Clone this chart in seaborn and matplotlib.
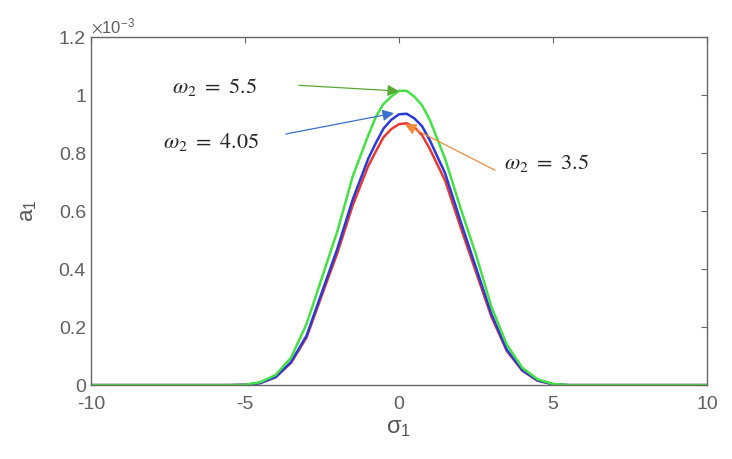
import pandas as pd
import numpy as np
import matplotlib
matplotlib.use("Agg")
import matplotlib.pyplot as plt
import seaborn as sns

# sigma_1 grid and a_1 values (units of 1e-3)
sigma1 = [-10, -6, -5.5, -5, -4.5, -4, -3.5, -3, -2.5, -2, -1.5, -1, -0.75, -0.5, -0.25,
          0, 0.25, 0.5, 0.75, 1, 1.5, 2, 2.5, 3, 3.5, 4, 4.5, 5, 5.5, 6, 10]

a1_w35 = [0, 0, 0, 0.001, 0.007, 0.027, 0.077, 0.164, 0.31, 0.455, 0.62, 0.755, 0.806, 0.855, 0.883,
          0.90, 0.903, 0.89, 0.862, 0.815, 0.705, 0.545, 0.39, 0.236, 0.118, 0.05, 0.015, 0.003, 0, 0, 0]

a1_w405 = [0, 0, 0, 0.001, 0.007, 0.028, 0.08, 0.17, 0.32, 0.47, 0.64, 0.78, 0.835, 0.885, 0.915,
           0.934, 0.936, 0.92, 0.893, 0.845, 0.73, 0.565, 0.405, 0.245, 0.122, 0.052, 0.016, 0.003, 0, 0, 0]

a1_w55 = [0, 0, 0, 0.001, 0.01, 0.035, 0.095, 0.21, 0.37, 0.53, 0.72, 0.86, 0.925, 0.97, 0.995,
          1.015, 1.015, 0.995, 0.965, 0.915, 0.78, 0.61, 0.45, 0.27, 0.14, 0.06, 0.02, 0.004, 0, 0, 0]

labels = ['3.5', '4.05', '5.5']
colors = {'3.5': '#e8382f', '4.05': '#2a3ad6', '5.5': '#45e045'}

yticks = [0, 0.2, 0.4, 0.6, 0.8, 1.0, 1.2]
ytick_labels = ['0', '0.2', '0.4', '0.6', '0.8', '1', '1.2']
xticks = [-10, -5, 0, 5, 10]

df = pd.concat([
    pd.DataFrame({'sigma1': sigma1, 'a1': np.array(a1_w35) * 1e-3, 'w2': '3.5'}),
    pd.DataFrame({'sigma1': sigma1, 'a1': np.array(a1_w405) * 1e-3, 'w2': '4.05'}),
    pd.DataFrame({'sigma1': sigma1, 'a1': np.array(a1_w55) * 1e-3, 'w2': '5.5'}),
])

sns.set_style('white')
plt.rcParams.update({
    'font.family': ['Liberation Sans', 'DejaVu Sans'],
    'mathtext.fontset': 'stix',
    'axes.unicode_minus': False,
    'xtick.direction': 'in', 'ytick.direction': 'in',
    'xtick.top': True, 'ytick.right': True,
    'xtick.color': '#666666', 'ytick.color': '#666666',
    'xtick.labelcolor': '#606060', 'ytick.labelcolor': '#606060',
})

fig = plt.figure(figsize=(7.32, 4.59), dpi=100)
ax = fig.add_axes([0.124, 0.161, 0.842, 0.758])

sns.lineplot(data=df, x='sigma1', y='a1', hue='w2', hue_order=labels,
             palette=colors, linewidth=1.8, legend=False, ax=ax, sort=False)

ax.set_xlim(-10, 10)
ax.set_ylim(0, 1.2e-3)
ax.set_xticks(xticks)
ax.set_xticklabels([str(t) for t in xticks])
ax.set_yticks(np.array(yticks) * 1e-3)
ax.set_yticklabels(ytick_labels)
ax.tick_params(labelsize=14, length=4, width=0.8)
ax.tick_params(axis='x', pad=8)
for s in ax.spines.values():
    s.set_color('#666666')
    s.set_linewidth(1.0)

# exponent label like MATLAB
ax.text(0.0, 1.003, r'$\times\mathregular{10^{-3}}$', transform=ax.transAxes,
        fontsize=12, color='#606060', ha='left', va='bottom')

ax.set_xlabel('σ$\\mathregular{_1}$', fontsize=17, color='#555555', labelpad=3)
ax.set_ylabel('a$\\mathregular{_1}$', fontsize=16, color='#555555', labelpad=14)

# labels and arrows pointing at the peaks
txt = dict(fontsize=16, ha='center', va='center')
ax.text(-6.0, 1.028e-3, r'$\omega_2\ =\ 5.5$', **txt)
ax.text(-6.1, 0.838e-3, r'$\omega_2\ =\ 4.05$', **txt)
ax.text(4.8, 0.766e-3, r'$\omega_2\ =\ 3.5$', **txt)

arrow = dict(arrowstyle='-|>', lw=0.9, mutation_scale=17, shrinkA=0, shrinkB=0)
ax.annotate('', xy=(0.0, 1.014e-3), xytext=(-3.25, 1.034e-3),
            arrowprops=dict(color='#5aa834', **arrow))
ax.annotate('', xy=(-0.16, 0.938e-3), xytext=(-3.67, 0.866e-3),
            arrowprops=dict(color='#3b6fd0', **arrow))
ax.annotate('', xy=(0.19, 0.90e-3), xytext=(3.12, 0.741e-3),
            arrowprops=dict(color='#f08a3c', **arrow))

fig.savefig('out.png', dpi=100)
